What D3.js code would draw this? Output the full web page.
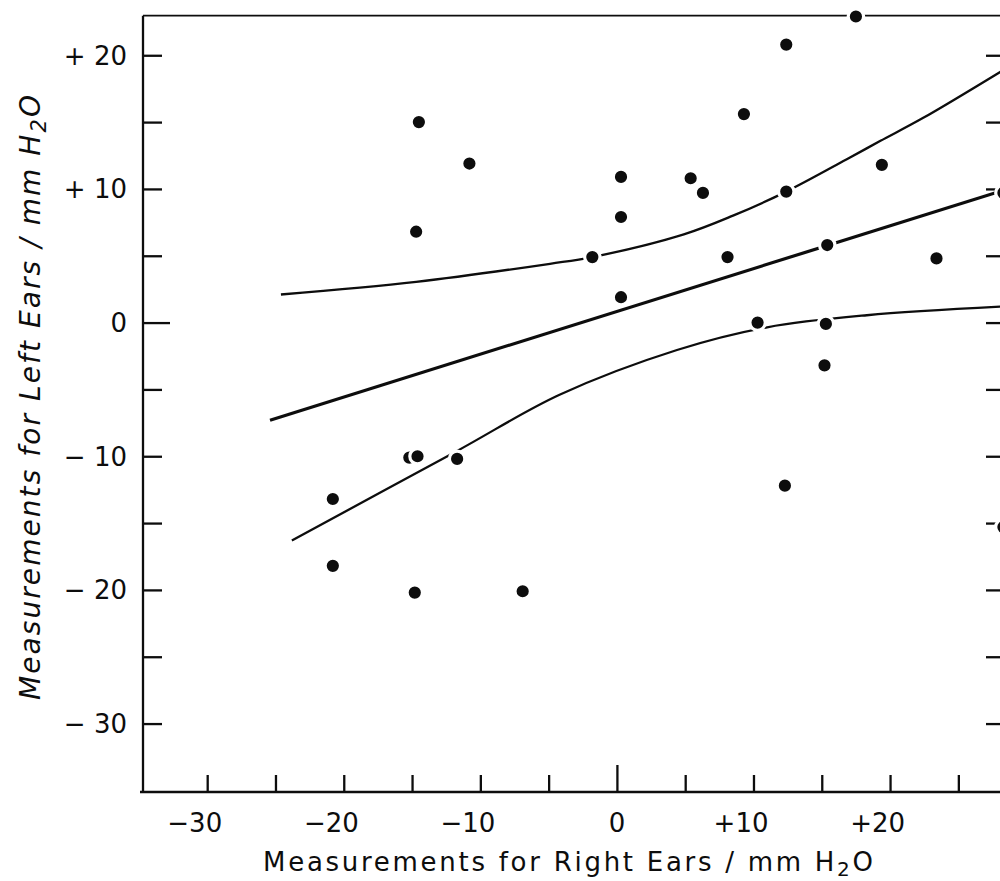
<!DOCTYPE html>
<html><head><meta charset="utf-8">
<script src="https://cdn.jsdelivr.net/npm/d3@7"></script>
<style>html,body{margin:0;padding:0;background:#fff;} svg{display:block;}</style>
</head><body>
<svg id="chart" width="1000" height="881"></svg>
<script>
// ---- data ----
const rightEar = [17.5, 12.4, 9.3, -14.5, -10.8, 0.3, 5.4, 6.3, 12.4, 19.4, 0.3, -14.7, -1.8, 8.1, 15.4, 23.4, 0.3, 10.3, 15.3, 15.2, -15.2, -14.6, -11.7, 12.3, -20.8, -20.8, -14.8, -6.9, 28.3, 28.3];
const leftEar  = [22.9, 20.8, 15.6, 15.0, 11.9, 10.9, 10.8, 9.7, 9.8, 11.8, 7.9, 6.8, 4.9, 4.9, 5.8, 4.8, 1.9, 0.0, -0.1, -3.2, -10.1, -10.0, -10.2, -12.2, -13.2, -18.2, -20.2, -20.1, 9.7, -15.3];

const regX = [-25.4, 28.3];
const regY = [-7.3, 9.9];
const upperX = [-24.6, -14.7, -4.9, -1.8, 4.9, 8.5, 12.4, 16.8, 19.3, 22.4, 28.3];
const upperY = [2.1, 3.05, 4.4, 4.9, 6.6, 8.0, 9.8, 12.2, 13.6, 15.3, 18.9];
const lowerX = [-23.8, -11.7, -4.2, 4.4, 11.0, 18.3, 28.3];
const lowerY = [-16.3, -9.6, -5.4, -2.05, -0.35, 0.55, 1.2];

const xTickValues = [-30, -25, -20, -15, -10, -5, 0, 5, 10, 15, 20, 25];
const xLabelValues = [-30, -20, -10, 0, 10, 20];
const xLabelTexts = ["\u221230", "\u221220", "\u221210", "0", "+10", "+20"];
const yTickValues = [-30, -25, -20, -15, -10, -5, 0, 5, 10, 15, 20];
const yLabelValues = [-30, -20, -10, 0, 10, 20];
const yLabelTexts = ["\u2212 30", "\u2212 20", "\u2212 10", "0", "+ 10", "+ 20"];

const xTitle = "Measurements for Right Ears / mm H";
const yTitle = "Measurements for Left Ears / mm H";

// ---- layout ----
const svg = d3.select("#chart");
const L = 143, R = 1003, T = 15.7, B = 792;
const x = d3.scaleLinear().domain([-34.7, 28.27]).range([L, R]);
const y = d3.scaleLinear().domain([-35.12, 22.96]).range([B, T]);
const font = "'DejaVu Sans', sans-serif";
const ink = "#0d0d0d";

svg.append("defs").append("clipPath").attr("id", "clip")
  .append("rect").attr("x", L).attr("y", T).attr("width", R - L).attr("height", B - T);

// frame
const frame = svg.append("g").attr("fill", "none").attr("stroke", ink).attr("stroke-width", 2.3);
frame.append("line").attr("x1", L).attr("x2", L).attr("y1", T).attr("y2", B + 1);
frame.append("line").attr("x1", L - 3).attr("x2", R).attr("y1", B).attr("y2", B);
frame.append("line").attr("x1", L).attr("x2", R).attr("y1", T).attr("y2", T).attr("stroke-width", 1.8);
frame.append("line").attr("x1", R).attr("x2", R).attr("y1", T).attr("y2", B);

// bottom ticks (pointing inward)
const xAxis = d3.axisBottom(x).tickValues(xTickValues).tickSize(-17).tickFormat("");
const gx = svg.append("g").attr("transform", `translate(0,${B})`).call(xAxis);
gx.select(".domain").remove();
gx.selectAll(".tick line").attr("stroke", ink).attr("stroke-width", 2.3)
  .attr("y2", d => d === 0 ? -27 : -17);

// left ticks
const yAxis = d3.axisLeft(y).tickValues(yTickValues).tickSize(-19).tickFormat("");
const gy = svg.append("g").attr("transform", `translate(${L},0)`).call(yAxis);
gy.select(".domain").remove();
gy.selectAll(".tick line").attr("stroke", ink).attr("stroke-width", 2.3)
  .attr("x2", d => d === 0 ? 27 : 19);

// right ticks (mirrored)
const yAxisR = d3.axisRight(y).tickValues(yTickValues).tickSize(-17).tickFormat("");
const gyr = svg.append("g").attr("transform", `translate(${R},0)`).call(yAxisR);
gyr.select(".domain").remove();
gyr.selectAll(".tick line").attr("stroke", ink).attr("stroke-width", 2.3);

// tick labels
svg.append("g").selectAll("text").data(xLabelValues).join("text")
  .attr("x", (d) => d === 0 ? x(d) : x(d) + 15)
  .attr("y", 832)
  .attr("text-anchor", d => d === 0 ? "middle" : "end")
  .attr("font-family", font).attr("font-size", 26).attr("fill", ink)
  .text((d, i) => xLabelTexts[i]);

svg.append("g").selectAll("text").data(yLabelValues).join("text")
  .attr("x", 127)
  .attr("y", d => y(d))
  .attr("dy", "0.36em")
  .attr("text-anchor", "end")
  .attr("font-family", font).attr("font-size", 26).attr("fill", ink)
  .text((d, i) => yLabelTexts[i]);

// axis titles
const xt = svg.append("text").attr("x", 263).attr("y", 871)
  .attr("font-family", font).attr("font-size", 26).attr("fill", ink)
  .attr("textLength", 610).attr("lengthAdjust", "spacing");
xt.append("tspan").text(xTitle);
xt.append("tspan").attr("dy", 5).attr("font-size", 20).text("2");
xt.append("tspan").attr("dy", -5).text("O");

const yt = svg.append("text").attr("transform", "translate(40,700) rotate(-90)")
  .attr("font-family", font).attr("font-size", 28).attr("font-style", "italic").attr("fill", ink)
  .attr("textLength", 605).attr("lengthAdjust", "spacing");
yt.append("tspan").text(yTitle);
yt.append("tspan").attr("dy", 6).attr("font-size", 21).text("2");
yt.append("tspan").attr("dy", -6).text("O");

// lines
const plot = svg.append("g").attr("clip-path", "url(#clip)");
const line = d3.line().x(d => x(d[0])).y(d => y(d[1]));
const curve = d3.line().x(d => x(d[0])).y(d => y(d[1])).curve(d3.curveCatmullRom.alpha(0.5));
plot.append("path").datum(regX.map((v, i) => [v, regY[i]])).attr("d", line)
  .attr("fill", "none").attr("stroke", ink).attr("stroke-width", 3.2);
plot.append("path").datum(upperX.map((v, i) => [v, upperY[i]])).attr("d", curve)
  .attr("fill", "none").attr("stroke", ink).attr("stroke-width", 2.3);
plot.append("path").datum(lowerX.map((v, i) => [v, lowerY[i]])).attr("d", curve)
  .attr("fill", "none").attr("stroke", ink).attr("stroke-width", 2.3);

// points
svg.append("g").selectAll("circle").data(rightEar).join("circle")
  .attr("cx", d => x(d)).attr("cy", (d, i) => y(leftEar[i]))
  .attr("r", 7.7).attr("fill", ink).attr("stroke", "#fff").attr("stroke-width", 3.2);
</script>
</body></html>
